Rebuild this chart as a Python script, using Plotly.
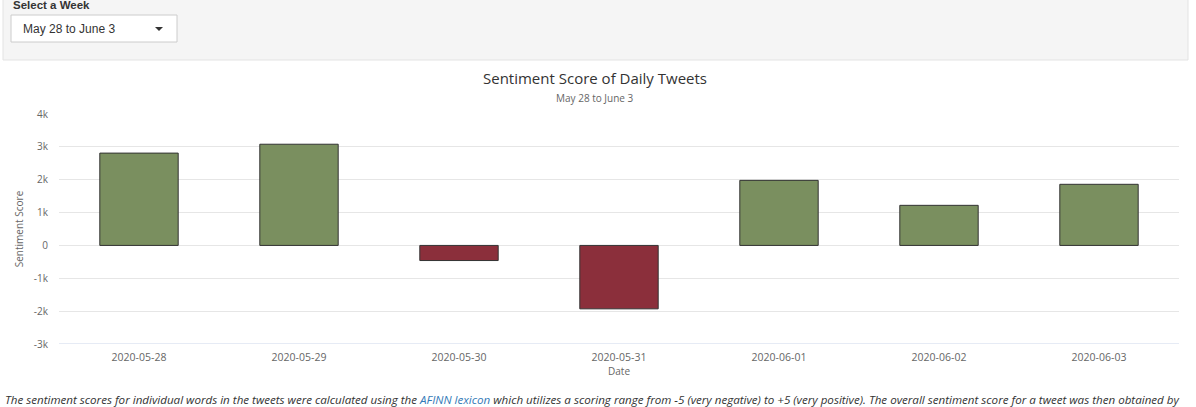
import plotly.graph_objects as go

# data
dates = ["2020-05-28", "2020-05-29", "2020-05-30", "2020-05-31",
         "2020-06-01", "2020-06-02", "2020-06-03"]
scores = [2810, 3080, -460, -1930, 1980, 1220, 1860]
y_ticks = [-3000, -2000, -1000, 0, 1000, 2000, 3000, 4000]
y_tick_labels = ["-3k", "-2k", "-1k", "0", "1k", "2k", "3k", "4k"]
week_label = "May 28 to June 3"

W, H = 1196, 407
L, R, T, B = 59, 17, 114, 63
FONT = "Open Sans"


def px(x):
    # pixel x -> paper x
    return (x - L) / (W - L - R)


def py(y):
    # pixel y -> paper y
    return (H - B - y) / (H - T - B)


colors = ["#7a8f5f" if s >= 0 else "#8b2f3b" for s in scores]

fig = go.Figure(go.Bar(
    x=dates, y=scores, width=0.49,
    marker=dict(color=colors, line=dict(color="#333333", width=1)),
    hoverinfo="skip",
))

shapes = [
    # shiny well panel
    dict(type="rect", xref="paper", yref="paper", x0=px(3), x1=px(1188),
         y0=py(-2), y1=py(60), fillcolor="#f5f5f5",
         line=dict(color="#e3e3e3", width=1), layer="below"),
    # dropdown box
    dict(type="rect", xref="paper", yref="paper", x0=px(11), x1=px(177),
         y0=py(15), y1=py(42), fillcolor="#ffffff",
         line=dict(color="#cccccc", width=1)),
    # caret
    dict(type="path", xref="paper", yref="paper",
         path=f"M {px(155)} {py(27)} L {px(163)} {py(27)} L {px(159)} {py(31)} Z",
         fillcolor="#333333", line=dict(width=0)),
    # axis line at bottom
    dict(type="line", xref="paper", yref="y", x0=0, x1=1, y0=-3000, y1=-3000,
         line=dict(color="#ccd6eb", width=1)),
]

annotations = [
    dict(text="<b>Select a Week</b>", x=px(11), y=py(5), xanchor="left",
         yanchor="middle", font=dict(family="Liberation Sans", size=11.5, color="#333333")),
    dict(text=week_label, x=px(21), y=py(29), xanchor="left", yanchor="middle",
         font=dict(family="Liberation Sans", size=12, color="#333333")),
    dict(text="Sentiment Score of Daily Tweets", x=px(595), y=py(78),
         xanchor="center", yanchor="middle",
         font=dict(family=FONT, size=15, color="#333333")),
    dict(text=week_label, x=px(595), y=py(98), xanchor="center", yanchor="middle",
         font=dict(family=FONT, size=10, color="#666666")),
    dict(text="<i>The sentiment scores for individual words in the tweets were calculated using the "
              "<span style='color:#337ab7'>AFINN lexicon</span> which utilizes a scoring range from "
              "-5 (very negative) to +5 (very positive). The overall sentiment score for a tweet was then obtained by</i>",
         x=px(3), y=py(399), xanchor="left", yanchor="middle",
         font=dict(family="Open Sans", size=11.6, color="#333333")),
]
for a in annotations:
    a.update(xref="paper", yref="paper", showarrow=False)

fig.update_layout(
    width=W, height=H,
    margin=dict(l=L, r=R, t=T, b=B),
    paper_bgcolor="white", plot_bgcolor="white",
    showlegend=False,
    shapes=shapes,
    annotations=annotations,
    font=dict(family=FONT, color="#666666", size=10),
    xaxis=dict(
        type="category", showgrid=False, zeroline=False, showline=False,
        ticks="", tickfont=dict(size=10.5, color="#666666"), ticklabelstandoff=5,
        title=dict(text="Date", font=dict(size=10, color="#666666"), standoff=4),
        range=[-0.5, len(dates) - 0.5], fixedrange=True,
    ),
    yaxis=dict(
        range=[-3000, 4000], tickvals=y_ticks, ticktext=y_tick_labels,
        showgrid=True, gridcolor="#e6e6e6", zeroline=False, showline=False,
        tickfont=dict(size=10, color="#666666"), ticks="", ticklabelstandoff=10,
        title=dict(text="Sentiment Score", font=dict(size=10, color="#666666"), standoff=8),
        fixedrange=True,
    ),
)

fig.write_html("out.html", config={"displayModeBar": False},
               post_script="document.body.style.margin='0';document.body.style.overflow='hidden';")
